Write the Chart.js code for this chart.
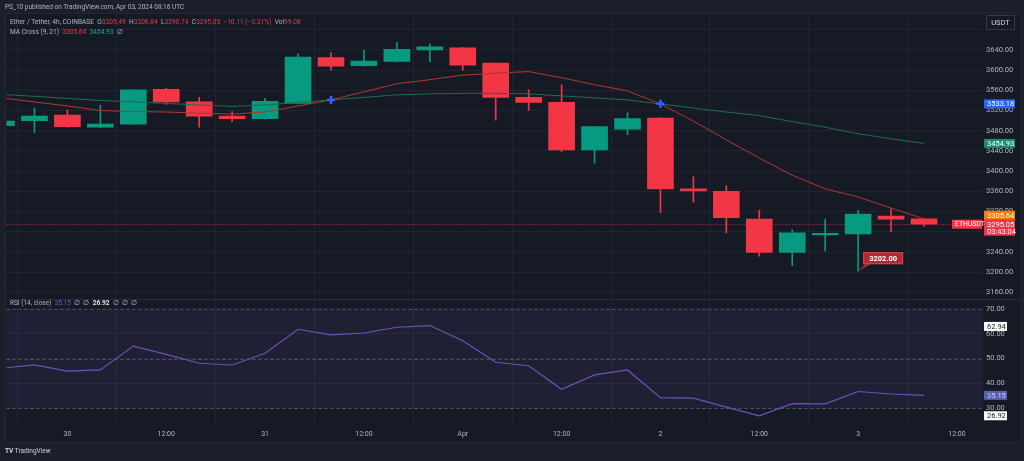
<!DOCTYPE html>
<html>
<head>
<meta charset="utf-8">
<script src="https://cdn.jsdelivr.net/npm/chart.js@4.4.1/dist/chart.umd.min.js"></script>
<style>
  html, body { margin: 0; padding: 0; background: #1b1f2a; }
  #wrap { position: relative; width: 1024px; height: 461px; overflow: hidden; font-family: Roboto, "Open Sans", sans-serif; }
  #panel { position: absolute; left: 5px; top: 13px; width: 1017px; height: 430px; background: #161a25; border: 1px solid #232733; border-radius: 3px; box-sizing: border-box; }
  #chart { position: absolute; left: 0; top: 0; }
  .t { position: absolute; white-space: nowrap; color: #b2b5be; font-size: 6.5px; line-height: 8px; }
  .l { font-size: 6.6px; }
  .r { color: #f23645; }
  .g { color: #22ab94; }
  .p { color: #7e57c2; }
  .w { color: #e0e3eb; font-weight: bold; }
</style>
</head>
<body>
<div id="wrap">
  <div id="panel"></div>
  <canvas id="chart" width="1024" height="461"></canvas>
  <div class="t" style="left:5px;top:3px;">PS_10 published on TradingView.com, Apr 03, 2024 08:16 UTC</div>
  <div class="t l" style="left:10px;top:18px;">Ether / Tether, 4h, COINBASE &nbsp;O<span class="r">3305.49</span> &nbsp;H<span class="r">3306.84</span> &nbsp;L<span class="r">3290.74</span> &nbsp;C<span class="r">3295.05</span> &nbsp;<span class="r">−10.11 (−0.31%)</span> &nbsp;Vol<span class="r">99.08</span></div>
  <div class="t l" style="left:10px;top:28px;">MA Cross (9, 21) &nbsp;<span class="r">3305.64</span> &nbsp;<span class="g">3454.93</span> &nbsp;∅</div>
  <div class="t" style="left:10px;top:299px;">RSI (14, close) &nbsp;<span class="p">35.15</span> &nbsp;∅ &nbsp;∅ &nbsp;<span class="w">26.92</span> &nbsp;∅ &nbsp;∅ &nbsp;∅</div>
  <div class="t" style="left:5px;top:447px;color:#d1d4dc;"><b>TV</b> TradingView</div>
</div>
<script>
// x positions are candle indexes (4h candles, 0 = Mar 29 16:00)
const tickIndex = [2, 5, 8, 11, 14, 17, 20, 23, 26, 29];
const tickLabels = ['30', '12:00', '31', '12:00', 'Apr', '12:00', '2', '12:00', '3', '12:00'];
const priceTicks = [3160, 3200, 3240, 3280, 3320, 3360, 3400, 3440, 3480, 3520, 3560, 3600, 3640, 3680];
const rsiTicks = [30, 40, 50, 60, 70];
const rsiBands = [70, 50, 30];

const opens  = [3490, 3500, 3511, 3487, 3493, 3562, 3537, 3509, 3504, 3534, 3625, 3609, 3617, 3640, 3644, 3614, 3546, 3536, 3442, 3483, 3505, 3365, 3360, 3305, 3239, 3274, 3276, 3311, 3305.49];
const highs  = [3502, 3525, 3521, 3531, 3562, 3564, 3546, 3518, 3544, 3632, 3634, 3639, 3655, 3652, 3645, 3614, 3561, 3571, 3488, 3516, 3506, 3389, 3371, 3323, 3284, 3305, 3323, 3326, 3306.84];
const lows   = [3488, 3476, 3487, 3486, 3492, 3532, 3487, 3498, 3503, 3533, 3600, 3608, 3616, 3616, 3600, 3501, 3520, 3439, 3416, 3472, 3318, 3339, 3278, 3232, 3213, 3242, 3202, 3280, 3290.74];
const closes = [3499, 3509, 3488, 3493, 3561, 3537, 3509, 3504, 3538, 3626, 3608, 3618, 3641, 3646, 3610, 3546, 3536, 3442, 3488, 3504, 3365, 3361, 3308, 3239, 3278, 3277, 3315, 3305, 3295.05];

const maFast = [3545, 3537, 3529, 3520, 3518, 3517, 3515, 3513, 3517, 3529, 3541, 3557, 3573, 3581, 3590, 3594, 3597, 3585, 3571, 3559, 3533, 3499, 3462, 3426, 3392, 3365, 3349, 3327, 3305.64];
const maSlow = [3552, 3548, 3544, 3540, 3537, 3534, 3531, 3528, 3531, 3536, 3541, 3546, 3551, 3553, 3554, 3554, 3553, 3549, 3545, 3541, 3533, 3525, 3517, 3510, 3498, 3487, 3474, 3464, 3454.93];
const crossIdx = [10, 20];
const crossVals = [3541, 3533.18];

const rsi = [46.1, 47.4, 44.9, 45.4, 55.0, 51.7, 48.1, 47.4, 52.1, 61.8, 59.5, 60.3, 62.6, 63.3, 57.2, 48.5, 47.1, 37.6, 43.4, 45.4, 34.2, 34.0, 30.4, 26.9, 31.8, 31.7, 36.7, 35.7, 35.15];

const lastClose = 3295.05;
const lowMark = { i: 26, v: 3202 };

const UP = '#089981', DOWN = '#f23645';
const GRID = 'rgba(42,46,57,0.55)';
const candleColor = opens.map((o, i) => closes[i] >= o ? UP : DOWN);

function box(ctx, x, yc, w, h, bg, fg, text) {
  ctx.fillStyle = bg;
  ctx.fillRect(x, yc - h / 2, w, h);
  ctx.fillStyle = fg;
  ctx.textAlign = 'left';
  ctx.textBaseline = 'middle';
  ctx.fillText(text, x + 3, yc + 0.5);
}

const overlay = {
  id: 'overlay',
  beforeDatasetsDraw(chart) {
    const { ctx, chartArea: a, scales } = chart;
    const y = scales.y, r = scales.rsi;
    ctx.save();
    // RSI background band
    const y70 = r.getPixelForValue(rsiBands[0]);
    const y30 = r.getPixelForValue(rsiBands[2]);
    ctx.fillStyle = 'rgba(126,87,194,0.10)';
    ctx.fillRect(a.left, y70, a.right - a.left, y30 - y70);
    ctx.strokeStyle = 'rgba(120,123,134,0.55)';
    ctx.lineWidth = 1;
    ctx.setLineDash([3, 3]);
    rsiBands.forEach(v => {
      const py = Math.round(r.getPixelForValue(v)) + 0.5;
      ctx.beginPath(); ctx.moveTo(a.left, py); ctx.lineTo(a.right, py); ctx.stroke();
    });
    // pane separator
    ctx.setLineDash([]);
    ctx.strokeStyle = '#262a36';
    const sep = Math.round(y.bottom) + 0.5;
    ctx.beginPath(); ctx.moveTo(a.left, sep); ctx.lineTo(1024, sep); ctx.stroke();
    // last price dotted line
    ctx.strokeStyle = 'rgba(242,54,69,0.8)';
    ctx.setLineDash([1, 2]);
    const lp = Math.round(y.getPixelForValue(lastClose)) + 0.5;
    ctx.beginPath(); ctx.moveTo(a.left, lp); ctx.lineTo(a.right, lp); ctx.stroke();
    ctx.restore();
  },
  afterDraw(chart) {
    const { ctx, chartArea: a, scales } = chart;
    const x = scales.x, y = scales.y, r = scales.rsi;
    ctx.save();
    ctx.font = '7.5px Roboto, sans-serif';
    const ax = a.right + 1;
    // price scale labels
    box(ctx, ax, y.getPixelForValue(3533.18), 31, 9, '#2962ff', '#ffffff', '3533.18');
    box(ctx, ax, y.getPixelForValue(3454.93), 31, 9, '#1e8c6e', '#ffffff', '3454.93');
    const lp = y.getPixelForValue(lastClose);
    ctx.fillStyle = DOWN;
    ctx.fillRect(ax, lp - 4.5, 31, 16);
    ctx.fillStyle = '#ffffff'; ctx.textBaseline = 'middle'; ctx.textAlign = 'left';
    ctx.fillText('3295.05', ax + 3, lp + 0.5);
    ctx.fillText('03:43:04', ax + 3, lp + 7.5);
    box(ctx, ax, lp - 9, 31, 9, '#f57c00', '#ffffff', '3305.64');
    ctx.font = '6.8px Roboto, sans-serif';
    box(ctx, a.right - 31, lp, 30, 9, DOWN, '#ffffff', 'ETHUSDT');
    ctx.font = '7.5px Roboto, sans-serif';
    // rsi labels
    box(ctx, ax, r.getPixelForValue(62.94), 23, 9, '#ffffff', '#131722', '62.94');
    box(ctx, ax, r.getPixelForValue(35.15), 23, 9, '#5b5fb0', '#c5c8f0', '35.15');
    box(ctx, ax, r.getPixelForValue(26.92), 23, 9, '#ffffff', '#131722', '26.92');
    // currency box
    ctx.fillStyle = '#161a25';
    ctx.fillRect(986, 15, 29, 15);
    ctx.strokeStyle = '#363a45';
    ctx.strokeRect(986.5, 15.5, 28, 14);
    ctx.fillStyle = '#d1d4dc';
    ctx.textAlign = 'center';
    ctx.fillText('USDT', 1000.5, 23);
    // low callout
    const px = x.getPixelForValue(lowMark.i), py = y.getPixelForValue(lowMark.v);
    const bx = px + 5, by = py - 19;
    ctx.fillStyle = '#b22833';
    ctx.beginPath();
    ctx.moveTo(px, py);
    ctx.lineTo(bx + 3, by + 11);
    ctx.lineTo(bx + 9, by + 11);
    ctx.closePath();
    ctx.fill();
    ctx.fillRect(bx, by, 40, 12);
    ctx.strokeStyle = '#d9434f';
    ctx.strokeRect(bx + 0.5, by + 0.5, 39, 11);
    ctx.fillStyle = '#ffffff';
    ctx.font = 'bold 7.5px Roboto, sans-serif';
    ctx.textAlign = 'center';
    ctx.fillText(lowMark.v.toFixed(2), bx + 20, by + 6.5);
    ctx.restore();
  }
};

const idx = opens.map((_, i) => i);

new Chart(document.getElementById('chart'), {
  type: 'bar',
  data: {
    datasets: [
      {
        label: 'MA 9', type: 'line', yAxisID: 'y', order: 0,
        data: idx.map(i => ({ x: i, y: maFast[i] })),
        borderColor: '#b0392d', borderWidth: 1, pointRadius: 0, tension: 0
      },
      {
        label: 'MA 21', type: 'line', yAxisID: 'y', order: 0,
        data: idx.map(i => ({ x: i, y: maSlow[i] })),
        borderColor: '#1d6e52', borderWidth: 1, pointRadius: 0, tension: 0
      },
      {
        label: 'Cross', type: 'line', yAxisID: 'y', order: -1, showLine: false,
        data: crossIdx.map((i, k) => ({ x: i, y: crossVals[k] })),
        pointStyle: 'cross', pointRadius: 4, borderWidth: 2.5, borderColor: '#2962ff'
      },
      {
        label: 'Bodies', yAxisID: 'y', order: 1, grouped: false,
        data: idx.map(i => ({ x: i, y: [opens[i], closes[i]] })),
        backgroundColor: candleColor, barThickness: 26, minBarLength: 1.5, borderWidth: 0
      },
      {
        label: 'Wicks', yAxisID: 'y', order: 2, grouped: false,
        data: idx.map(i => ({ x: i, y: [lows[i], highs[i]] })),
        backgroundColor: candleColor, barThickness: 1, borderWidth: 0
      },
      {
        label: 'RSI', type: 'line', yAxisID: 'rsi', order: 0,
        data: idx.map(i => ({ x: i, y: rsi[i] })),
        borderColor: '#6f51b8', borderWidth: 1.2, pointRadius: 0, tension: 0
      }
    ]
  },
  options: {
    responsive: false,
    animation: false,
    layout: { padding: { top: 13, left: 5, right: 0, bottom: 18 } },
    plugins: { legend: { display: false }, tooltip: { enabled: false } },
    scales: {
      x: {
        type: 'linear', offset: false, min: 0.1515, max: 29.79,
        grid: { color: GRID, drawTicks: false },
        border: { display: false },
        afterBuildTicks: s => { s.ticks = tickIndex.map(v => ({ value: v })); },
        afterFit: s => { s.height = 18; },
        ticks: {
          autoSkip: false, maxRotation: 0, padding: 5, color: '#b2b5be',
          font: { family: 'Roboto', size: 7 },
          callback: (v, k) => tickLabels[k]
        }
      },
      y: {
        position: 'right', stack: 'pane', stackWeight: 286, min: 3147, max: 3713,
        grid: { color: GRID, drawTicks: false },
        border: { display: false },
        afterBuildTicks: s => { s.ticks = priceTicks.map(v => ({ value: v })); },
        afterFit: s => { s.width = 41; },
        ticks: {
          autoSkip: false, padding: 3, color: '#b2b5be',
          font: { family: 'Roboto', size: 7.5 },
          callback: v => v === 3680 ? '' : v.toFixed(2)
        }
      },
      rsi: {
        position: 'right', stack: 'pane', stackWeight: 126, min: 23.2, max: 74.0,
        grid: { color: GRID, drawTicks: false },
        border: { display: false },
        afterBuildTicks: s => { s.ticks = rsiTicks.map(v => ({ value: v })); },
        afterFit: s => { s.width = 41; },
        ticks: {
          autoSkip: false, padding: 3, color: '#b2b5be',
          font: { family: 'Roboto', size: 7.5 },
          callback: v => v.toFixed(2)
        }
      }
    }
  },
  plugins: [overlay]
});
</script>
</body>
</html>
